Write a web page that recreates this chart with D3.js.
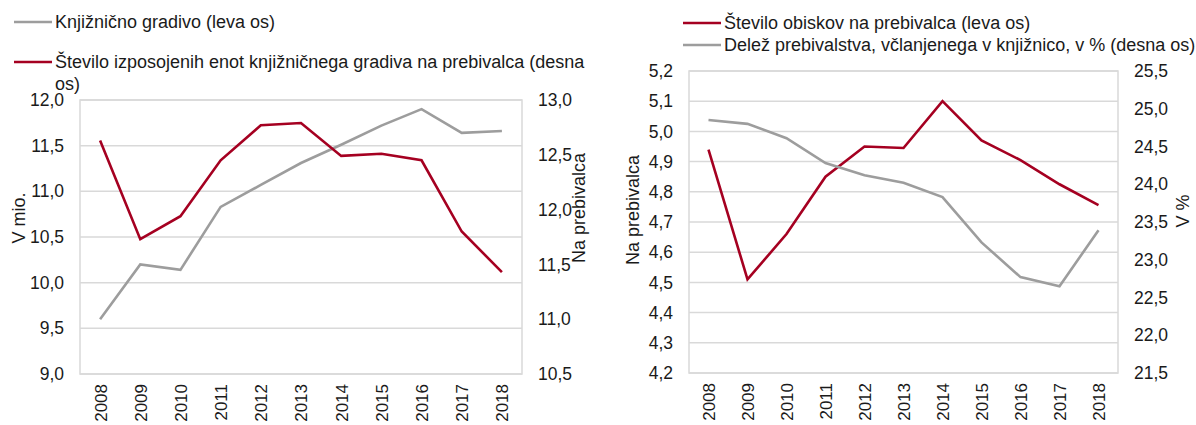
<!DOCTYPE html>
<html>
<head>
<meta charset="utf-8">
<script src="https://cdn.jsdelivr.net/npm/d3@7"></script>
<style>
  body { margin: 0; background: #fff; }
  svg text { font-family: "Liberation Sans", Arial, sans-serif; fill: #1a1a1a; }
</style>
</head>
<body>
<div id="chart"></div>
<script>
const years = ["2008", "2009", "2010", "2011", "2012", "2013", "2014", "2015", "2016", "2017", "2018"];

// left chart
const gradivo = [9.60, 10.20, 10.14, 10.83, 11.07, 11.31, 11.51, 11.72, 11.90, 11.64, 11.66];
const izposoja = [12.63, 11.73, 11.94, 12.45, 12.77, 12.79, 12.49, 12.51, 12.45, 11.80, 11.43];
const leftTicksA = [9.0, 9.5, 10.0, 10.5, 11.0, 11.5, 12.0];
const rightTicksA = [10.5, 11.0, 11.5, 12.0, 12.5, 13.0];

// right chart
const obiski = [4.94, 4.51, 4.66, 4.85, 4.95, 4.945, 5.10, 4.97, 4.905, 4.825, 4.756];
const clanstvo = [24.85, 24.80, 24.61, 24.28, 24.12, 24.02, 23.83, 23.23, 22.77, 22.65, 23.39];
const leftTicksB = [4.2, 4.3, 4.4, 4.5, 4.6, 4.7, 4.8, 4.9, 5.0, 5.1, 5.2];
const rightTicksB = [21.5, 22.0, 22.5, 23.0, 23.5, 24.0, 24.5, 25.0, 25.5];

const RED = "#a50021";
const GREY = "#9d9d9d";
const GRID = "#d9d9d9";
const fmt = d => d.toFixed(1).replace(".", ",");

const svg = d3.select("#chart").append("svg")
  .attr("width", 1196)
  .attr("height", 425);

function drawChart(cfg) {
  const g = svg.append("g");
  const x = d3.scalePoint().domain(years).range([cfg.x0, cfg.x1]).padding(0.5);
  const yL = d3.scaleLinear().domain(cfg.leftDomain).range([cfg.y1, cfg.y0]);
  const yR = d3.scaleLinear().domain(cfg.rightDomain).range([cfg.y1, cfg.y0]);

  // grid
  g.append("g").selectAll("line").data(cfg.leftTicks).join("line")
    .attr("x1", cfg.x0).attr("x2", cfg.x1)
    .attr("y1", d => yL(d)).attr("y2", d => yL(d))
    .attr("stroke", GRID).attr("stroke-width", 1.5);
  g.append("rect")
    .attr("x", cfg.x0).attr("y", cfg.y0)
    .attr("width", cfg.x1 - cfg.x0).attr("height", cfg.y1 - cfg.y0)
    .attr("fill", "none").attr("stroke", GRID).attr("stroke-width", 1.5);

  // axes
  const axL = g.append("g").attr("transform", `translate(${cfg.x0},0)`)
    .call(d3.axisLeft(yL).tickValues(cfg.leftTicks).tickFormat(fmt).tickSize(0).tickPadding(16));
  const axR = g.append("g").attr("transform", `translate(${cfg.x1},0)`)
    .call(d3.axisRight(yR).tickValues(cfg.rightTicks).tickFormat(fmt).tickSize(0).tickPadding(16));
  const axX = g.append("g").attr("transform", `translate(0,${cfg.y1})`)
    .call(d3.axisBottom(x).tickSize(0));
  [axL, axR, axX].forEach(a => {
    a.select(".domain").remove();
    a.selectAll("text").attr("font-size", 17.5).attr("font-family", "Liberation Sans, Arial, sans-serif").attr("fill", "#1a1a1a");
  });
  axX.selectAll("text")
    .attr("font-size", 17)
    .attr("transform", "rotate(-90)")
    .attr("text-anchor", "end")
    .attr("x", -10).attr("y", 0).attr("dy", "0.35em");

  // lines
  const lineL = d3.line().x((d, i) => x(years[i])).y(d => yL(d));
  const lineR = d3.line().x((d, i) => x(years[i])).y(d => yR(d));
  g.append("path").datum(cfg.leftData).attr("d", lineL)
    .attr("fill", "none").attr("stroke", cfg.leftColor).attr("stroke-width", 2.6);
  g.append("path").datum(cfg.rightData).attr("d", lineR)
    .attr("fill", "none").attr("stroke", cfg.rightColor).attr("stroke-width", 2.6);

  // axis titles
  g.append("text")
    .attr("transform", `translate(${cfg.leftTitleX},${cfg.leftTitleY}) rotate(-90)`)
    .attr("text-anchor", "middle").attr("dy", "0.35em").attr("font-size", 18)
    .text(cfg.leftTitle);
  g.append("text")
    .attr("transform", `translate(${cfg.rightTitleX},${cfg.rightTitleY}) rotate(-90)`)
    .attr("text-anchor", "middle").attr("dy", "0.35em").attr("font-size", 18)
    .text(cfg.rightTitle);

  // legend
  cfg.legend.forEach(item => {
    g.append("line")
      .attr("x1", item.x).attr("x2", item.x + 38)
      .attr("y1", item.y).attr("y2", item.y)
      .attr("stroke", item.color).attr("stroke-width", 2.6);
    const t = g.append("text")
      .attr("x", item.x + 41).attr("y", item.y)
      .attr("font-size", 18);
    item.lines.forEach((s, i) => {
      t.append("tspan").attr("x", item.x + 41).attr("dy", i === 0 ? "0.35em" : "1.2em").text(s);
    });
  });
}

drawChart({
  x0: 80, x1: 522, y0: 100, y1: 374,
  leftDomain: [9.0, 12.0], rightDomain: [10.5, 13.0],
  leftTicks: leftTicksA, rightTicks: rightTicksA,
  leftData: gradivo, rightData: izposoja,
  leftColor: GREY, rightColor: RED,
  leftTitle: "V mio.", leftTitleX: 19, leftTitleY: 218,
  rightTitle: "Na prebivalca", rightTitleX: 579, rightTitleY: 208,
  legend: [
    { x: 14, y: 22, color: GREY, lines: ["Knjižnično gradivo (leva os)"] },
    { x: 14, y: 62, color: RED, lines: ["Število izposojenih enot knjižničnega gradiva na prebivalca (desna", "os)"] }
  ]
});

drawChart({
  x0: 689, x1: 1118, y0: 71, y1: 373,
  leftDomain: [4.2, 5.2], rightDomain: [21.5, 25.5],
  leftTicks: leftTicksB, rightTicks: rightTicksB,
  leftData: obiski, rightData: clanstvo,
  leftColor: RED, rightColor: GREY,
  leftTitle: "Na prebivalca", leftTitleX: 633, leftTitleY: 210,
  rightTitle: "V %", rightTitleX: 1183, rightTitleY: 211,
  legend: [
    { x: 683, y: 23, color: RED, lines: ["Število obiskov na prebivalca (leva os)"] },
    { x: 683, y: 45, color: GREY, lines: ["Delež prebivalstva, včlanjenega v knjižnico, v % (desna os)"] }
  ]
});
</script>
</body>
</html>
